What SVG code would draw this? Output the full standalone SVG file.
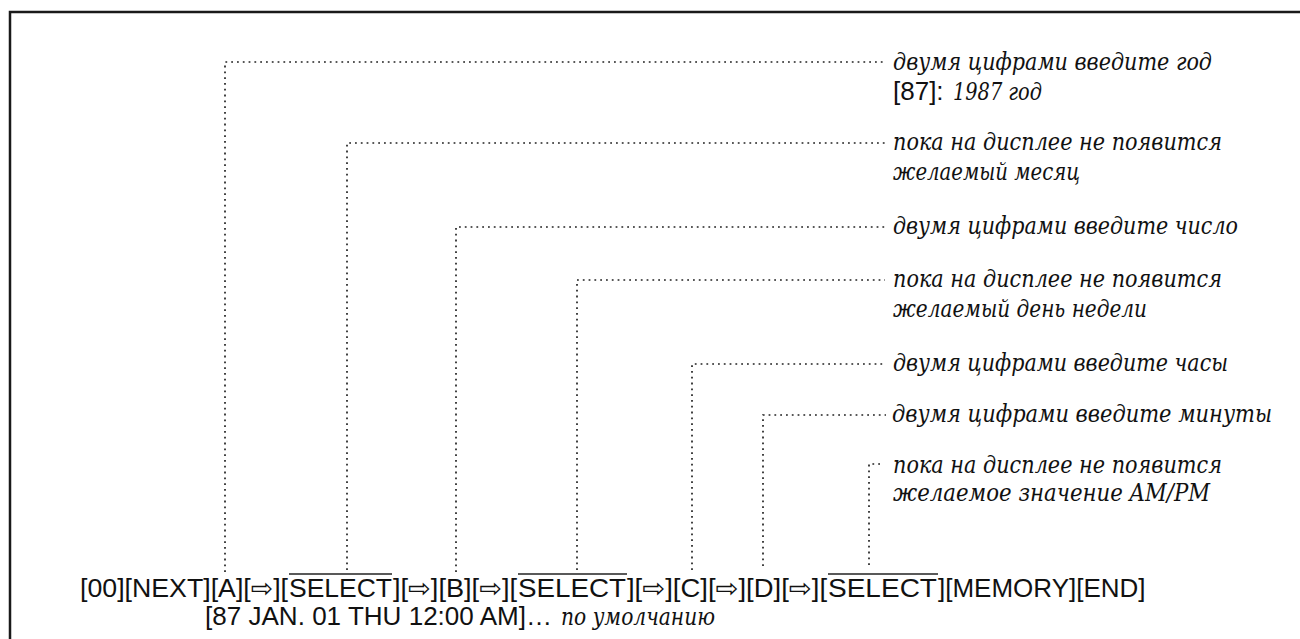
<svg xmlns="http://www.w3.org/2000/svg" width="1300" height="639" viewBox="0 0 1300 639">
<style>
.frame{fill:none;stroke:#1a1a1a;stroke-width:2.5}
.lead{fill:none;stroke:#222;stroke-width:1.7;stroke-dasharray:1.8 4}
.ovl{stroke:#222;stroke-width:1.6}
.key{font-family:"Liberation Sans","DejaVu Sans",Arial,sans-serif;font-size:26px;fill:#111}
.lbl{font-family:"DejaVu Serif","Liberation Serif",serif;font-style:italic;font-size:24px;fill:#111}
</style>
<rect width="1300" height="639" fill="#fff"/>
<path class="frame" d="M10,639 V12 H1300"/>

<g id="connectors">
<path class="lead" d="M225,572 V62 H885"/>
<path class="lead" d="M347,570 V143 H885"/>
<path class="lead" d="M456,572 V227 H885"/>
<path class="lead" d="M577,570 V280 H885"/>
<path class="lead" d="M692,570 V364 H885"/>
<path class="lead" d="M763,566 V415 H886"/>
<path class="lead" d="M869,565 V464 H882"/>
</g>

<g id="sequence">
<text class="key" x="80" y="597" textLength="208" lengthAdjust="spacingAndGlyphs">[00][NEXT][A][⇨][</text>
<text class="key" x="289" y="597" textLength="103" lengthAdjust="spacingAndGlyphs">SELECT</text>
<text class="key" x="393" y="597" textLength="124" lengthAdjust="spacingAndGlyphs">][⇨][B][⇨][</text>
<text class="key" x="518" y="597" textLength="108" lengthAdjust="spacingAndGlyphs">SELECT</text>
<text class="key" x="627" y="597" textLength="200" lengthAdjust="spacingAndGlyphs">][⇨][C][⇨][D][⇨][</text>
<text class="key" x="828" y="597" textLength="109" lengthAdjust="spacingAndGlyphs">SELECT</text>
<text class="key" x="938" y="597">][MEMORY][END]</text>
<line class="ovl" x1="289" y1="574" x2="392" y2="574"/>
<line class="ovl" x1="518" y1="574" x2="627" y2="574"/>
<line class="ovl" x1="828" y1="574" x2="938" y2="574"/>
</g>

<g id="default">
<text class="key" x="205" y="625" font-size="25" textLength="347" lengthAdjust="spacingAndGlyphs">[87 JAN. 01 THU 12:00 AM]…</text>
<text class="lbl" x="561" y="625" font-size="20" textLength="154" lengthAdjust="spacingAndGlyphs">по умолчанию</text>
</g>

<g id="note-year">
<text class="lbl" x="893" y="70" textLength="319" lengthAdjust="spacingAndGlyphs">двумя цифрами введите год</text>
<text class="key" x="893" y="100" font-size="25">[87]:</text>
<text class="lbl" x="953" y="100" font-size="22" textLength="89" lengthAdjust="spacingAndGlyphs">1987 год</text>
</g>

<g id="note-month">
<text class="lbl" x="893" y="150" textLength="329" lengthAdjust="spacingAndGlyphs">пока на дисплее не появится</text>
<text class="lbl" x="893" y="180" textLength="187" lengthAdjust="spacingAndGlyphs">желаемый месяц</text>
</g>

<g id="note-date">
<text class="lbl" x="893" y="234" textLength="345" lengthAdjust="spacingAndGlyphs">двумя цифрами введите число</text>
</g>

<g id="note-weekday">
<text class="lbl" x="893" y="287" textLength="329" lengthAdjust="spacingAndGlyphs">пока на дисплее не появится</text>
<text class="lbl" x="893" y="317" textLength="254" lengthAdjust="spacingAndGlyphs">желаемый день недели</text>
</g>

<g id="note-hours">
<text class="lbl" x="893" y="371" textLength="335" lengthAdjust="spacingAndGlyphs">двумя цифрами введите часы</text>
</g>

<g id="note-minutes">
<text class="lbl" x="892" y="422" textLength="380" lengthAdjust="spacingAndGlyphs">двумя цифрами введите минуты</text>
</g>

<g id="note-ampm">
<text class="lbl" x="893" y="473" textLength="329" lengthAdjust="spacingAndGlyphs">пока на дисплее не появится</text>
<text class="lbl" x="893" y="501" textLength="317" lengthAdjust="spacingAndGlyphs">желаемое значение AM/PM</text>
</g>
</svg>
